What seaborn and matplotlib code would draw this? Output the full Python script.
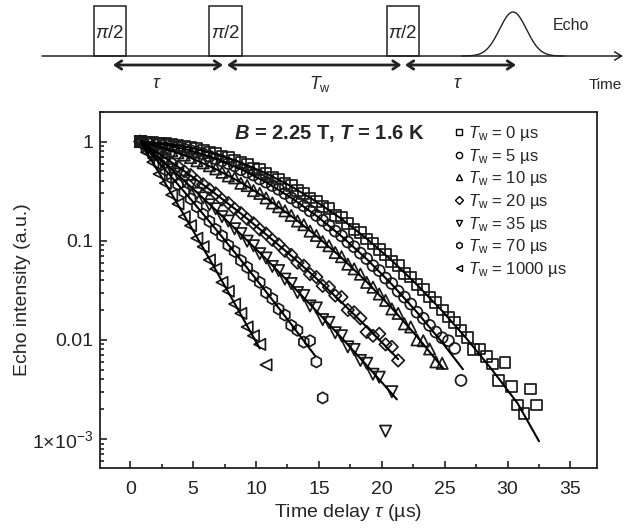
import numpy as np
import pandas as pd
import matplotlib
matplotlib.use("Agg")
import matplotlib.pyplot as plt
from matplotlib.lines import Line2D
from matplotlib.patches import Rectangle
from matplotlib.ticker import LogLocator, NullFormatter, MultipleLocator, FixedLocator, FixedFormatter
import seaborn as sns

# ---------------- data ----------------
TAU = [0.8, 1.3, 1.8, 2.3, 2.8, 3.3, 3.8, 4.3, 4.8, 5.3, 5.8, 6.3, 6.8, 7.3, 7.8, 8.3,
       8.8, 9.3, 9.8, 10.3, 10.8, 11.3, 11.8, 12.3, 12.8, 13.3, 13.8, 14.3, 14.8, 15.3,
       15.8, 16.3, 16.8, 17.3, 17.8, 18.3, 18.8, 19.3, 19.8, 20.3, 20.8, 21.3, 21.8, 22.3,
       22.8, 23.3, 23.8, 24.3, 24.8, 25.3, 25.8, 26.3, 26.8, 27.3, 27.8, 28.3, 28.8, 29.3,
       29.8, 30.3, 30.8, 31.3, 31.8, 32.3]

LABELS = ["0", "5", "10", "20", "35", "70", "1000"]

ECHO_TW0 = [1.00, 0.99, 0.98, 0.97, 0.95, 0.94, 0.92, 0.89, 0.87, 0.85,
            0.81, 0.78, 0.76, 0.71, 0.69, 0.65, 0.61, 0.59, 0.54, 0.52,
            0.48, 0.44, 0.42, 0.38, 0.36, 0.32, 0.30, 0.27, 0.25, 0.22,
            0.21, 0.18, 0.17, 0.15, 0.13, 0.12, 0.104, 0.094, 0.081, 0.073,
            0.062, 0.056, 0.047, 0.043, 0.036, 0.032, 0.027, 0.024, 0.020, 0.017,
            0.015, 0.0125, 0.0105, 0.0080, 0.0081, 0.0068, 0.0057, 0.0039, 0.0059, 0.0034,
            0.0022, 0.0018, 0.0032, 0.0022]
ECHO_TW5 = [1.0, 0.99, 0.97, 0.95, 0.93, 0.90, 0.88, 0.84, 0.81, 0.78,
            0.75, 0.71, 0.67, 0.64, 0.60, 0.57, 0.52, 0.49, 0.46, 0.42,
            0.39, 0.36, 0.33, 0.30, 0.27, 0.245, 0.225, 0.20, 0.18, 0.16,
            0.143, 0.125, 0.112, 0.097, 0.087, 0.075, 0.066, 0.056, 0.050, 0.042,
            0.037, 0.031, 0.027, 0.023, 0.019, 0.0165, 0.0140, 0.0120, 0.0105, 0.0098,
            0.0082, 0.0039]
ECHO_TW10 = [1.0, 0.96, 0.93, 0.89, 0.85, 0.81, 0.77, 0.73, 0.69, 0.64,
             0.61, 0.57, 0.53, 0.49, 0.45, 0.43, 0.38, 0.36, 0.32, 0.30,
             0.27, 0.24, 0.22, 0.20, 0.18, 0.158, 0.145, 0.125, 0.113, 0.098,
             0.089, 0.076, 0.069, 0.058, 0.052, 0.046, 0.038, 0.034, 0.029, 0.025,
             0.0205, 0.0185, 0.0145, 0.0135, 0.0100, 0.0098, 0.0081, 0.0060, 0.0058]
ECHO_TW20 = [1.0, 0.90, 0.83, 0.75, 0.69, 0.61, 0.56, 0.50, 0.46, 0.40,
             0.37, 0.33, 0.30, 0.26, 0.24, 0.21, 0.19, 0.166, 0.150, 0.130,
             0.118, 0.102, 0.092, 0.079, 0.072, 0.060, 0.056, 0.046, 0.043, 0.035,
             0.034, 0.028, 0.027, 0.020, 0.019, 0.0165, 0.0120, 0.0110, 0.0115, 0.0090,
             0.0085, 0.0062]
ECHO_TW35 = [1.0, 0.87, 0.78, 0.67, 0.60, 0.52, 0.47, 0.40, 0.36, 0.30,
             0.27, 0.23, 0.21, 0.175, 0.158, 0.132, 0.118, 0.099, 0.089, 0.074,
             0.067, 0.055, 0.050, 0.041, 0.037, 0.030, 0.028, 0.022, 0.021, 0.016,
             0.0150, 0.0118, 0.0110, 0.0085, 0.0080, 0.0062, 0.0058, 0.0045, 0.0042, 0.0012,
             0.0030]
ECHO_TW70 = [1.0, 0.84, 0.73, 0.60, 0.52, 0.43, 0.37, 0.31, 0.265, 0.22,
             0.185, 0.157, 0.130, 0.112, 0.090, 0.078, 0.063, 0.054, 0.044, 0.038,
             0.030, 0.026, 0.0205, 0.0178, 0.0140, 0.0125, 0.0095, 0.0098, 0.0060, 0.0026]
ECHO_TW1000 = [1.0, 0.78, 0.62, 0.47, 0.38, 0.29, 0.235, 0.175, 0.142, 0.106,
               0.087, 0.064, 0.052, 0.038, 0.031, 0.023, 0.0185, 0.0135, 0.0110, 0.0090,
               0.0056]

# fitted curves (read at 2 us steps along each solid line)
FIT_X_TW0 = [0.8, 2.8, 4.8, 6.8, 8.8, 10.8, 12.8, 14.8, 16.8, 18.8, 20.8, 22.8, 24.8, 26.8, 28.8, 30.8, 32.5]
FIT_Y_TW0 = [1.0, 0.957, 0.869, 0.750, 0.615, 0.479, 0.354, 0.248, 0.166, 0.105, 0.0631, 0.0360, 0.0196,
             0.0101, 0.00493, 0.00229, 0.00095]
FIT_X_TW5 = [0.8, 2.8, 4.8, 6.8, 8.8, 10.8, 12.8, 14.8, 16.8, 18.8, 20.8, 22.8, 24.8, 26.45]
FIT_Y_TW5 = [1.0, 0.928, 0.814, 0.674, 0.527, 0.389, 0.271, 0.179, 0.111, 0.0654, 0.0363, 0.0190, 0.00943, 0.00506]
FIT_X_TW10 = [0.8, 2.8, 4.8, 6.8, 8.8, 10.8, 12.8, 14.8, 16.8, 18.8, 20.8, 22.8, 24.9]
FIT_Y_TW10 = [1.0, 0.850, 0.687, 0.528, 0.387, 0.269, 0.178, 0.112, 0.0674, 0.0385, 0.0209, 0.0108, 0.00512]
FIT_X_TW20 = [0.8, 2.8, 4.8, 6.8, 8.8, 10.8, 12.8, 14.8, 16.8, 18.8, 20.8, 21.3]
FIT_Y_TW20 = [1.0, 0.682, 0.455, 0.296, 0.188, 0.116, 0.0705, 0.0417, 0.0240, 0.0135, 0.00745, 0.00639]
FIT_X_TW35 = [0.8, 2.8, 4.8, 6.8, 8.8, 10.8, 12.8, 14.8, 16.8, 18.8, 20.8, 21.2]
FIT_Y_TW35 = [1.0, 0.598, 0.352, 0.204, 0.116, 0.0654, 0.0361, 0.0196, 0.0105, 0.00553, 0.00287, 0.00251]
FIT_X_TW70 = [0.8, 2.8, 4.8, 6.8, 8.8, 10.8, 12.8, 14.7]
FIT_Y_TW70 = [1.0, 0.517, 0.263, 0.131, 0.0639, 0.0306, 0.0144, 0.00691]
FIT_X_TW1000 = [0.8, 2.8, 4.8, 6.8, 8.8, 10.3]
FIT_Y_TW1000 = [1.0, 0.378, 0.140, 0.0508, 0.0180, 0.00818]

ECHO = [ECHO_TW0, ECHO_TW5, ECHO_TW10, ECHO_TW20, ECHO_TW35, ECHO_TW70, ECHO_TW1000]
FIT_X = [FIT_X_TW0, FIT_X_TW5, FIT_X_TW10, FIT_X_TW20, FIT_X_TW35, FIT_X_TW70, FIT_X_TW1000]
FIT_Y = [FIT_Y_TW0, FIT_Y_TW5, FIT_Y_TW10, FIT_Y_TW20, FIT_Y_TW35, FIT_Y_TW70, FIT_Y_TW1000]

MARKERS = ["s", "o", "^", "D", "v", "h", "<"]
SIZES = [60, 62, 66, 40, 66, 66, 66]

# ---------------- style ----------------
sns.set_style("ticks")
plt.rcParams['font.family'] = ['Liberation Sans', 'DejaVu Sans']
plt.rcParams['mathtext.fontset'] = 'custom'
plt.rcParams['mathtext.rm'] = 'Liberation Sans'
plt.rcParams['mathtext.it'] = 'Liberation Sans:italic'
plt.rcParams['mathtext.bf'] = 'Liberation Sans:bold'
if 'mathtext.bfit' in plt.rcParams:
    plt.rcParams['mathtext.bfit'] = 'Liberation Sans:italic:bold'

fig = plt.figure(figsize=(6.25, 5.28), dpi=100)
fig.patch.set_facecolor('white')

# ---------------- main axes ----------------
ax = fig.add_axes([0.16, 0.1136, 0.795, 0.6748])

rows = []
for lab, ys in zip(LABELS, ECHO):
    for x, y in zip(TAU[:len(ys)], ys):
        rows.append({"tau": x, "echo": y, "Tw": lab})
df = pd.DataFrame(rows)

fit_rows = []
for lab, fx, fy in zip(LABELS, FIT_X, FIT_Y):
    for x, y in zip(fx, fy):
        fit_rows.append({"tau": x, "echo": y, "Tw": lab})
dfit = pd.DataFrame(fit_rows)

for lab, m, s in zip(LABELS, MARKERS, SIZES):
    sub = df[df["Tw"] == lab]
    sns.scatterplot(data=sub, x="tau", y="echo", marker=m, s=s, color="k",
                    linewidth=1.25, ax=ax, zorder=3, legend=False)
for coll in ax.collections:
    coll.set_facecolor("none")
    coll.set_edgecolor("#1a1a1a")

for lab in LABELS:
    sub = dfit[dfit["Tw"] == lab]
    sns.lineplot(data=sub, x="tau", y="echo", color="k", lw=1.5, ax=ax,
                 sort=False, estimator=None, zorder=4, legend=False)

ax.set_yscale("log")
ax.set_xlim(-2.4, 37.1)
ax.set_ylim(5.1e-4, 2.0)
ax.xaxis.set_major_locator(FixedLocator([0, 5, 10, 15, 20, 25, 30, 35]))
ax.xaxis.set_minor_locator(MultipleLocator(2.5))
ax.yaxis.set_major_locator(FixedLocator([1e-3, 1e-2, 1e-1, 1]))
ax.yaxis.set_major_formatter(FixedFormatter([r"1×10$^{-3}$", "0.01", "0.1", "1"]))
ax.yaxis.set_minor_locator(LogLocator(base=10, subs=range(2, 10), numticks=20))
ax.yaxis.set_minor_formatter(NullFormatter())
ax.tick_params(which="both", direction="in", top=False, right=False, width=1.2,
               labelsize=14, colors="#222222")
ax.tick_params(which="major", length=5)
ax.tick_params(axis="x", which="major", pad=9)
ax.tick_params(axis="y", which="major", pad=5)
ax.tick_params(which="minor", length=3)
for sp in ax.spines.values():
    sp.set_linewidth(1.3)
    sp.set_color("#222222")

ax.set_xlabel(r"Time delay $\tau$ (µs)", fontsize=14, labelpad=3)
ax.set_ylabel("Echo intensity (a.u.)", fontsize=14)
ax.yaxis.set_label_coords(-0.138, 0.5)

ax.text(0.27, 0.94, r"$\mathbfit{B}$ = 2.25 T, $\mathbfit{T}$ = 1.6 K", transform=ax.transAxes,
        fontsize=14.5, fontweight="bold", ha="left", va="center")

handles = [Line2D([], [], linestyle="none", marker=m, markersize=4.5, markerfacecolor="none",
                  markeredgecolor="k", markeredgewidth=1.0) for m in MARKERS]
labels = [rf"$T_\mathrm{{w}}$ = {l} µs" for l in LABELS]
ax.legend(handles, labels, loc="upper left", bbox_to_anchor=(0.714, 0.966), frameon=False,
          fontsize=12, handlelength=0.55, handletextpad=0.25, labelspacing=0.22,
          borderpad=0, borderaxespad=0)

# ---------------- pulse-sequence schematic ----------------
dg = fig.add_axes([0, 1 - 100 / 528, 1, 100 / 528])
dg.set_xlim(0, 625)
dg.set_ylim(100, 0)
dg.axis("off")
base_y = 56
dg.annotate("", xy=(623, base_y), xytext=(42, base_y),
            arrowprops=dict(arrowstyle="->,head_length=0.5,head_width=0.3", lw=1.1, color="#222222",
                            shrinkA=0, shrinkB=0))
for x0, w in [(94, 32), (209, 33), (387, 32)]:
    dg.add_patch(Rectangle((x0, 6), w, base_y - 6, fill=False, lw=1.1, ec="#222222"))
    dg.text(x0 + w / 2, 34, r"$\pi$/2", ha="center", va="center", fontsize=13.5)
for xa, xb in [(113, 223), (227, 401.5), (405, 516)]:
    dg.annotate("", xy=(xb, 65), xytext=(xa, 65),
                arrowprops=dict(arrowstyle="<->,head_length=0.45,head_width=0.3", lw=2.0, color="#222222",
                                shrinkA=0, shrinkB=0))
dg.text(157, 84, r"$\tau$", ha="center", va="center", fontsize=13)
dg.text(320, 84, r"$T_\mathrm{w}$", ha="center", va="center", fontsize=13)
dg.text(458, 84, r"$\tau$", ha="center", va="center", fontsize=13)
dg.text(553, 25, "Echo", ha="left", va="center", fontsize=11.5)
dg.text(589, 85, "Time", ha="left", va="center", fontsize=11)
gx = np.linspace(462, 564, 200)
gy = base_y - 44 * np.exp(-0.5 * ((gx - 513) / 13.5) ** 2)
dg.plot(gx, gy, color="#222222", lw=1.0)

fig.savefig("out.png", dpi=100, facecolor="white")
